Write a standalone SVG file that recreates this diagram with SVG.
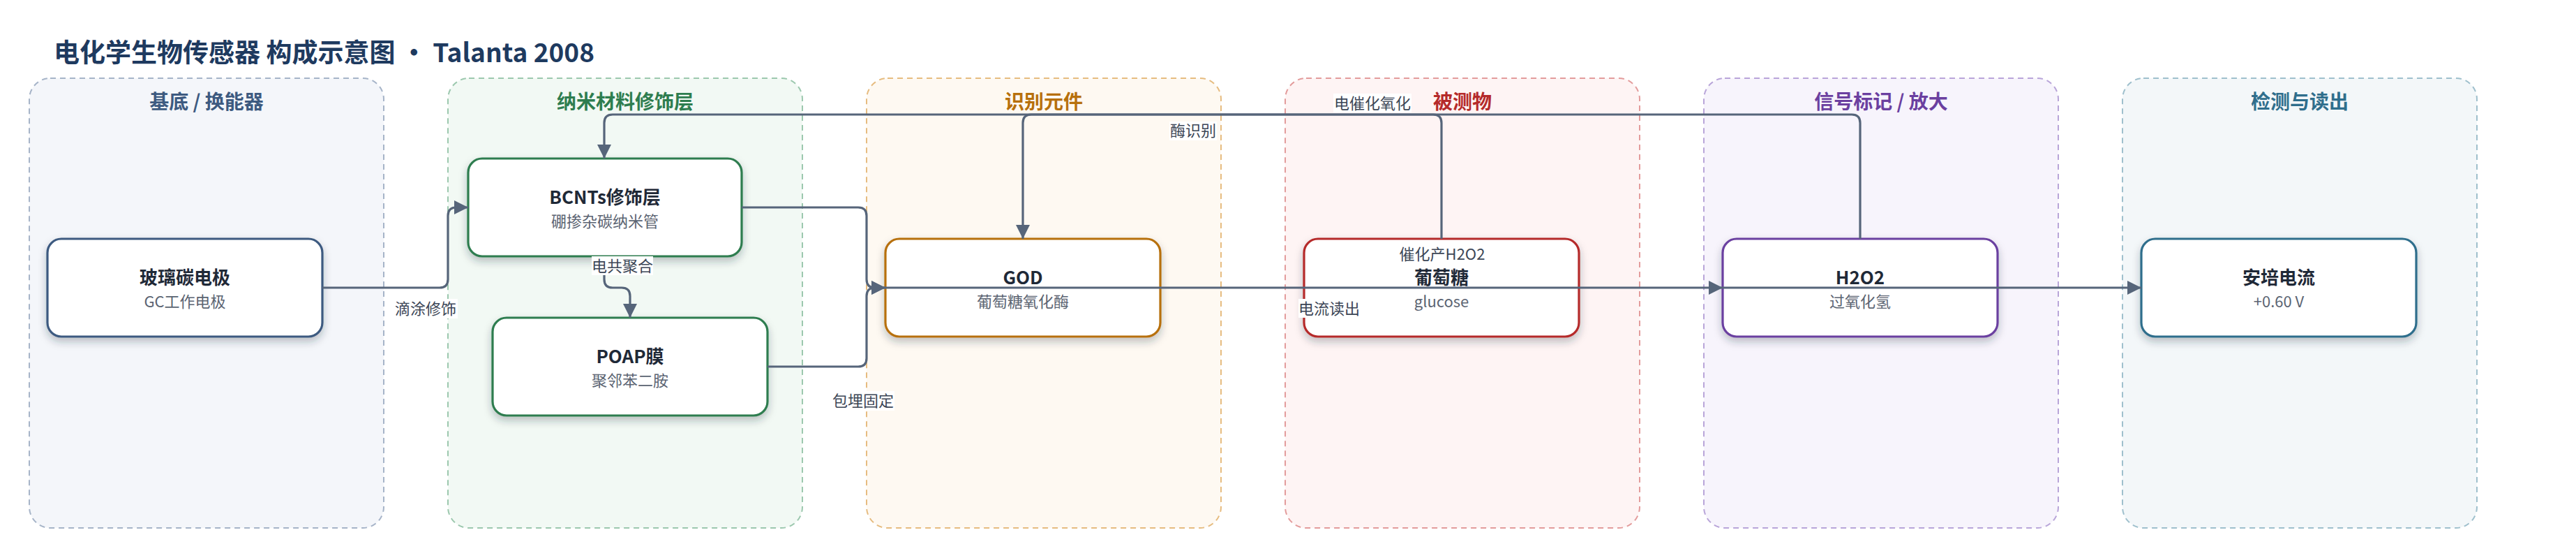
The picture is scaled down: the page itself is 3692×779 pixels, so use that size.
<svg xmlns="http://www.w3.org/2000/svg" width="3692" height="779" viewBox="0 0 3692 779">
<defs>
<style>
text{font-family:"Noto Sans CJK SC","Noto Sans",sans-serif}
.title{font-size:37px;font-weight:700;fill:#1e3a5f}
.lane{stroke-width:2;stroke-dasharray:8 6}
.lt{font-size:28px;font-weight:700;text-anchor:middle}
.node{fill:#fff;stroke-width:3.2;filter:url(#sh)}
.nt{font-size:26px;font-weight:700;fill:#1f2937;text-anchor:middle}
.ns{font-size:22px;fill:#5b6472;text-anchor:middle}
.edge{fill:none;stroke:#56657a;stroke-width:3.2}
.arr{marker-end:url(#ah)}
.lb{font-size:22px;fill:#3c4656;text-anchor:middle}
.lbg{fill:#fff}
</style>
<filter id="sh" x="-10%" y="-20%" width="120%" height="150%">
<feDropShadow dx="0" dy="6" stdDeviation="6" flood-color="#1f2937" flood-opacity="0.28"/>
</filter>
<marker id="ah" markerUnits="userSpaceOnUse" markerWidth="20" markerHeight="20" refX="20" refY="10" orient="auto">
<path d="M0,0 L20,10 L0,20 z" fill="#56657a"/>
</marker>
</defs>
<rect width="3692" height="779" fill="#fff"/>
<text class="title" x="77" y="89">电化学生物传感器 构成示意图 • Talanta 2008</text>

<g id="lane-substrate">
<rect class="lane" x="42" y="112" width="508" height="644" rx="30" fill="#f4f6fa" stroke="#a6b4c8"/>
<text class="lt" x="296" y="156" fill="#3d5a80">基底 / 换能器</text>
</g>
<g id="lane-nano">
<rect class="lane" x="642" y="112" width="508" height="644" rx="30" fill="#f2f9f4" stroke="#9cc8ae"/>
<text class="lt" x="896" y="156" fill="#2e7d4f">纳米材料修饰层</text>
</g>
<g id="lane-recog">
<rect class="lane" x="1242" y="112" width="508" height="644" rx="30" fill="#fef9f2" stroke="#e6bc80"/>
<text class="lt" x="1496" y="156" fill="#b7700c">识别元件</text>
</g>
<g id="lane-analyte">
<rect class="lane" x="1842" y="112" width="508" height="644" rx="30" fill="#fef4f4" stroke="#e39c9c"/>
<text class="lt" x="2096" y="156" fill="#b52a2a">被测物</text>
</g>
<g id="lane-signal">
<rect class="lane" x="2442" y="112" width="508" height="644" rx="30" fill="#f7f4fc" stroke="#b9a5d9"/>
<text class="lt" x="2696" y="156" fill="#6b3fa0">信号标记 / 放大</text>
</g>
<g id="lane-detect">
<rect class="lane" x="3042" y="112" width="508" height="644" rx="30" fill="#f3f7f9" stroke="#9fc0cd"/>
<text class="lt" x="3296" y="156" fill="#2f6e8c">检测与读出</text>
</g>

<g id="node-gc">
<rect class="node" x="68" y="342" width="394" height="140" rx="20" stroke="#3d5a80"/>
<text class="nt" x="265" y="407">玻璃碳电极</text>
<text class="ns" x="265" y="440">GC工作电极</text>
</g>
<g id="node-bcnts">
<rect class="node" x="671" y="227" width="392" height="140" rx="20" stroke="#2e7d4f"/>
<text class="nt" x="867" y="292">BCNTs修饰层</text>
<text class="ns" x="867" y="325">硼掺杂碳纳米管</text>
</g>
<g id="node-poap">
<rect class="node" x="706" y="455" width="394" height="140" rx="20" stroke="#2e7d4f"/>
<text class="nt" x="903" y="520">POAP膜</text>
<text class="ns" x="903" y="553">聚邻苯二胺</text>
</g>
<g id="node-god">
<rect class="node" x="1269" y="342" width="394" height="140" rx="20" stroke="#b7700c"/>
<text class="nt" x="1466" y="407">GOD</text>
<text class="ns" x="1466" y="440">葡萄糖氧化酶</text>
</g>
<g id="node-glucose">
<rect class="node" x="1869" y="342" width="394" height="140" rx="20" stroke="#b52a2a"/>
<text class="nt" x="2066" y="407">葡萄糖</text>
<text class="ns" x="2066" y="440">glucose</text>
</g>
<g id="node-h2o2">
<rect class="node" x="2469" y="342" width="394" height="140" rx="20" stroke="#6b3fa0"/>
<text class="nt" x="2666" y="407">H2O2</text>
<text class="ns" x="2666" y="440">过氧化氢</text>
</g>
<g id="node-amp">
<rect class="node" x="3069" y="342" width="394" height="140" rx="20" stroke="#2f6e8c"/>
<text class="nt" x="3266" y="407">安培电流</text>
<text class="ns" x="3266" y="440">+0.60 V</text>
</g>

<g id="connectors">
<path class="edge arr" d="M462 412 H630 Q642 412 642 400 V309 Q642 297 654 297 H671"/>
<path class="edge arr" d="M866 367 V400 Q866 412 878 412 H891 Q903 412 903 424 V455"/>
<path class="edge arr" d="M1063 297 H1230 Q1242 297 1242 309 V400 Q1242 412 1254 412 H1269"/>
<path class="edge arr" d="M1100 525 H1230 Q1242 525 1242 513 V424 Q1242 412 1254 412 H1269"/>
<path class="edge arr" d="M2066 342 V176 Q2066 164 2054 164 H1478 Q1466 164 1466 176 V342"/>
<path class="edge arr" d="M2666 342 V176 Q2666 164 2654 164 H878 Q866 164 866 176 V227"/>
<path class="edge arr" d="M1269 412 H2469"/>
<path class="edge arr" d="M2469 412 H3069"/>
<rect class="lbg" x="564" y="428" width="92" height="28"/>
<text class="lb" x="610" y="450">滴涂修饰</text>
<rect class="lbg" x="848" y="367" width="88" height="27"/>
<text class="lb" x="892" y="389">电共聚合</text>
<rect class="lbg" x="1192" y="560" width="90" height="28"/>
<text class="lb" x="1237" y="582">包埋固定</text>
<rect class="lbg" x="1676" y="174" width="68" height="27"/>
<text class="lb" x="1710" y="195">酶识别</text>
<rect class="lbg" x="1911" y="134" width="112" height="27"/>
<text class="lb" x="1967" y="156">电催化氧化</text>
<rect class="lbg" x="1861" y="428" width="88" height="27"/>
<text class="lb" x="1905" y="450">电流读出</text>
<text class="lb" x="2067" y="372">催化产H2O2</text>
</g>
</svg>
